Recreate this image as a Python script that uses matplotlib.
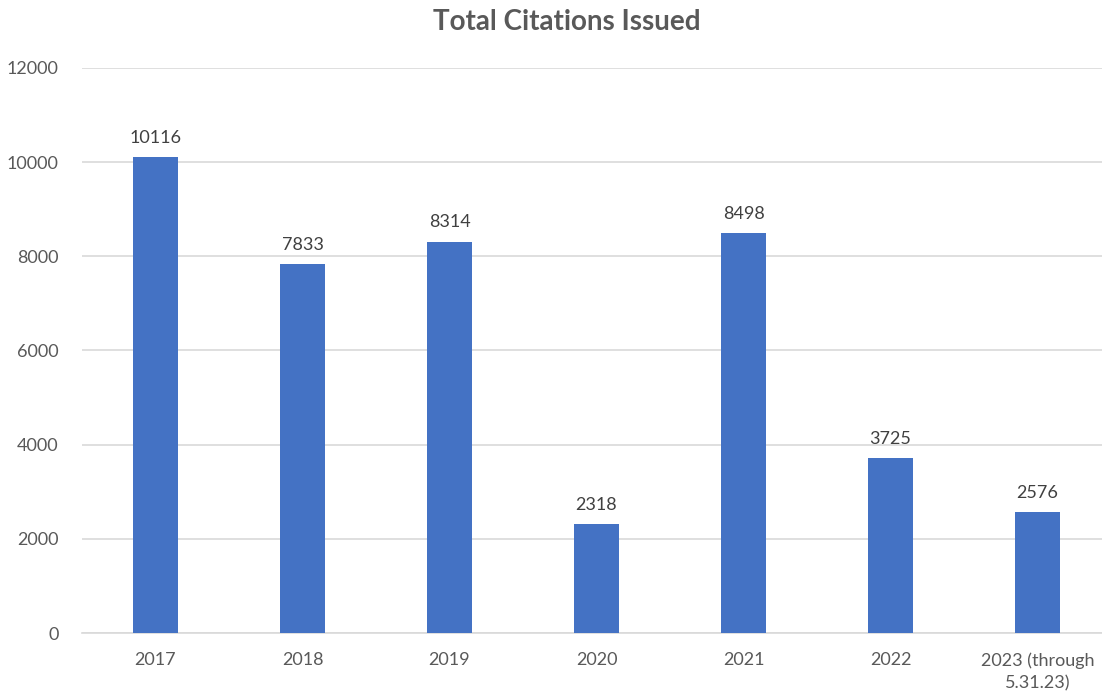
import numpy as np
import matplotlib
matplotlib.use("Agg")
import matplotlib.pyplot as plt

# Total citations per year
years = ["2017", "2018", "2019", "2020", "2021", "2022", "2023 (through\n5.31.23)"]
citations = [10116, 7833, 8314, 2318, 8498, 3725, 2576]
yticks = [0, 2000, 4000, 6000, 8000, 10000, 12000]

plt.rcParams['font.family'] = ['Lato', 'DejaVu Sans']

W, H = 1102, 692
fig = plt.figure(figsize=(W / 100, H / 100), dpi=100)
ax = fig.add_axes([82 / W, 1 - 633 / H, (1102 - 82) / W, (633 - 68) / H])

x = np.arange(len(years))
bars = ax.bar(x, citations, width=0.31, color="#4472C4", zorder=3)

for xi, v in zip(x, citations):
    ax.annotate(str(v), (xi, v), xytext=(0, 8), textcoords="offset points",
                ha="center", va="bottom", fontsize=13, color="#404040")

ax.set_ylim(0, 12000)
ax.set_xlim(-0.5, (1102 - 82) / 147 - 0.5)
ax.set_yticks(yticks)
ax.set_yticklabels([str(t) for t in yticks])
ax.set_xticks(x)
ax.set_xticklabels(years, linespacing=1.45)

ax.grid(axis="y", color="#D9D9D9", linewidth=1.2, zorder=0)
for s in ["top", "right", "left"]:
    ax.spines[s].set_visible(False)
ax.spines["bottom"].set_color("#D9D9D9")
ax.spines["bottom"].set_linewidth(1.2)
ax.tick_params(axis="both", length=0, labelsize=13, labelcolor="#595959")
ax.tick_params(axis="y", pad=17)
ax.tick_params(axis="x", pad=14)

fig.text(567 / W, 1 - 22 / H, "Total Citations Issued", ha="center", va="center",
         fontsize=20, fontweight="bold", color="#595959")

fig.savefig("out.png", dpi=100)
